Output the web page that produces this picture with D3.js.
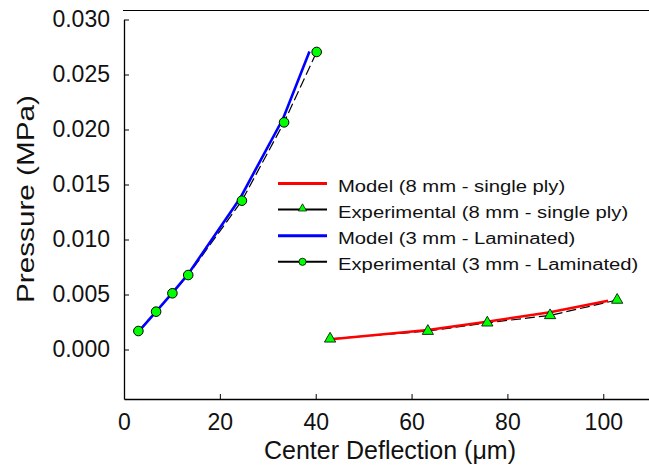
<!DOCTYPE html>
<html lang="en">
<head>
    <meta charset="UTF-8">
    <title>Pressure vs Center Deflection</title>
    <script src="https://d3js.org/d3.v7.min.js"></script>
    <style>
        body { margin: 0; background: #fff; }
        svg { display: block; font-family: "Liberation Sans", Arial, sans-serif; }
    </style>
</head>
<body>
    <svg width="649" height="473"></svg>
    <script>
        // Data (deflection in um, pressure in MPa)
        const plyModelX = [43.2, 63.4, 75.7, 88.9, 101.0];
        const plyModelY = [0.00093, 0.00177, 0.00253, 0.00338, 0.00444];
        const plyExpX = [43.0, 63.4, 75.8, 88.9, 102.9];
        const plyExpY = [0.00097, 0.00167, 0.00243, 0.00310, 0.00450];
        const lamModelX = [3.0, 6.6, 10.0, 13.3, 24.3, 33.2, 38.7];
        const lamModelY = [0.0016, 0.0034, 0.0051, 0.0068, 0.0138, 0.0210, 0.0271];
        const lamExpX = [3.0, 6.7, 10.1, 13.4, 24.6, 33.4, 40.2];
        const lamExpY = [0.00168, 0.00344, 0.00511, 0.00677, 0.01353, 0.02065, 0.02705];

        const xTicks = [0, 20, 40, 60, 80, 100];
        const yTicks = [0, 0.005, 0.010, 0.015, 0.020, 0.025, 0.030];
        const legendLabels = [
            "Model (8 mm - single ply)",
            "Experimental (8 mm - single ply)",
            "Model (3 mm - Laminated)",
            "Experimental (3 mm - Laminated)"
        ];

        const svg = d3.select("svg");

        const x = d3.scaleLinear().domain([0, 110]).range([124, 651.2]);
        const y = d3.scaleLinear().domain([-0.0045, 0.030]).range([399, 19.5]);

        const zip = (xs, ys) => xs.map((v, i) => [v, ys[i]]);
        const line = d3.line().x(d => x(d[0])).y(d => y(d[1]));

        // top frame line
        svg.append("line")
            .attr("x1", 123).attr("x2", 649)
            .attr("y1", 10.5).attr("y2", 10.5)
            .attr("stroke", "#000").attr("stroke-width", 1.2);

        // X axis (ticks point inward)
        const xAxis = svg.append("g")
            .attr("transform", `translate(0,${y.range()[0]})`)
            .call(d3.axisBottom(x).tickValues(xTicks).tickSizeInner(-5).tickSizeOuter(0).tickPadding(15));
        xAxis.select(".domain").attr("stroke-width", 1.3);
        xAxis.selectAll("text").attr("font-size", 23).attr("fill", "#111")
            .attr("font-family", "Liberation Sans, Arial, sans-serif");

        // Y axis (ticks point inward)
        const yAxis = svg.append("g")
            .attr("transform", `translate(${x(0)},0)`)
            .call(d3.axisLeft(y).tickValues(yTicks).tickFormat(d3.format(".3f")).tickSizeInner(-5).tickSizeOuter(0).tickPadding(14));
        yAxis.select(".domain").attr("stroke-width", 1.3);
        yAxis.selectAll("text").attr("font-size", 23).attr("fill", "#111")
            .attr("font-family", "Liberation Sans, Arial, sans-serif");

        // Axis titles
        svg.append("text")
            .attr("x", 390).attr("y", 459)
            .attr("text-anchor", "middle")
            .attr("font-size", 25).attr("fill", "#111")
            .text("Center Deflection (\u03BCm)");

        svg.append("text")
            .attr("transform", "translate(34,199) rotate(-90)")
            .attr("text-anchor", "middle")
            .attr("font-size", 24).attr("fill", "#111")
            .attr("textLength", 208).attr("lengthAdjust", "spacingAndGlyphs")
            .text("Pressure (MPa)");

        // Experimental dashed lines
        svg.append("path").datum(zip(lamExpX, lamExpY))
            .attr("d", line).attr("fill", "none")
            .attr("stroke", "#000").attr("stroke-width", 1.2)
            .attr("stroke-dasharray", "10,4");
        svg.append("path").datum(zip(plyExpX, plyExpY))
            .attr("d", line).attr("fill", "none")
            .attr("stroke", "#000").attr("stroke-width", 1.2)
            .attr("stroke-dasharray", "10,4");

        // Model lines
        svg.append("path").datum(zip(lamModelX, lamModelY))
            .attr("d", line).attr("fill", "none")
            .attr("stroke", "#0000ff").attr("stroke-width", 2.6);
        svg.append("path").datum(zip(plyModelX, plyModelY))
            .attr("d", line).attr("fill", "none")
            .attr("stroke", "#ff0000").attr("stroke-width", 2.6);

        // Markers
        const tri = d3.symbol().type(d3.symbolTriangle);
        svg.selectAll(".tri").data(zip(plyExpX, plyExpY)).enter().append("path")
            .attr("class", "tri")
            .attr("d", tri.size(55))
            .attr("transform", d => `translate(${x(d[0])},${y(d[1])})`)
            .attr("fill", "#00ff00").attr("stroke", "#000").attr("stroke-width", 0.8);

        svg.selectAll(".circ").data(zip(lamExpX, lamExpY)).enter().append("circle")
            .attr("class", "circ")
            .attr("cx", d => x(d[0])).attr("cy", d => y(d[1])).attr("r", 4.8)
            .attr("fill", "#00ff00").attr("stroke", "#000").attr("stroke-width", 1);

        // Legend
        const legendStyles = [
            { color: "#ff0000", width: 3, marker: null },
            { color: "#000", width: 2, marker: "tri" },
            { color: "#0000ff", width: 3, marker: null },
            { color: "#000", width: 2, marker: "circ" }
        ];
        const legend = svg.append("g");
        legendLabels.forEach((label, i) => {
            const cy = 183.5 + i * 26.1;
            const st = legendStyles[i];
            legend.append("line")
                .attr("x1", 278).attr("x2", 327)
                .attr("y1", cy).attr("y2", cy)
                .attr("stroke", st.color).attr("stroke-width", st.width);
            if (st.marker === "tri") {
                legend.append("path")
                    .attr("d", d3.symbol().type(d3.symbolTriangle).size(30)())
                    .attr("transform", `translate(302.5,${cy - 1})`)
                    .attr("fill", "#00ff00").attr("stroke", "#000").attr("stroke-width", 0.7);
            } else if (st.marker === "circ") {
                legend.append("circle")
                    .attr("cx", 302.5).attr("cy", cy).attr("r", 3.6)
                    .attr("fill", "#00ff00").attr("stroke", "#000").attr("stroke-width", 0.8);
            }
            const t = legend.append("text")
                .attr("x", 338).attr("y", cy + 8)
                .attr("font-size", 16).attr("fill", "#111")
                .text(label);
            const w = t.node().getComputedTextLength();
            t.attr("textLength", w * 1.265).attr("lengthAdjust", "spacingAndGlyphs");
        });
    </script>
</body>
</html>
